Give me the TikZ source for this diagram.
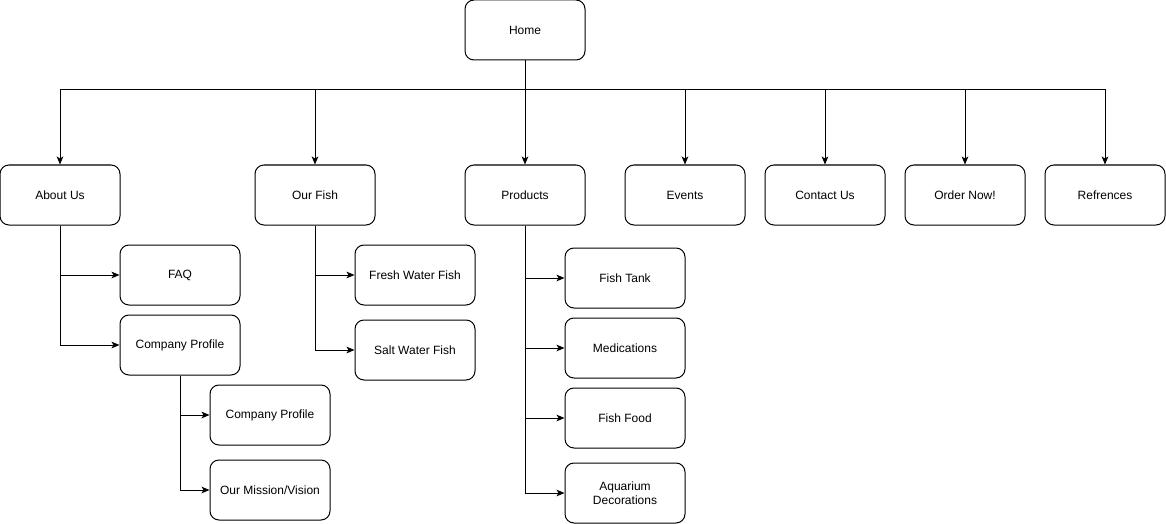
\documentclass[tikz,border=0pt]{standalone}
\usepackage{fontspec}
\setmainfont{Liberation Sans}
\usetikzlibrary{arrows.meta}
\begin{document}
\begin{tikzpicture}[x=0.75pt,y=-0.75pt,
  box/.style={draw=black,line width=0.75pt,rounded corners=6.75pt,minimum width=90pt,minimum height=45pt,inner sep=0pt,align=center,font=\fontsize{9}{10.5}\selectfont,fill=white},
  arr/.style={draw=black,line width=0.75pt,-{Stealth[length=6pt,width=5pt,inset=1.5pt]}}]
\useasboundingbox (0,0) rectangle (1166,524);
\node[box] (home) at (525,30) {Home};
\node[box] (about) at (60,195) {About Us};
\node[box] (fish) at (315,195) {Our Fish};
\node[box] (prod) at (525,195) {Products};
\node[box] (events) at (685,195) {Events};
\node[box] (contact) at (825,195) {Contact Us};
\node[box] (order) at (965,195) {Order Now!};
\node[box] (refs) at (1105,195) {Refrences};
\node[box] (faq) at (180,275) {FAQ};
\node[box] (cp) at (180,345) {Company Profile};
\node[box] (cp2) at (270,415) {Company Profile};
\node[box] (mission) at (270,490) {Our Mission/Vision};
\node[box] (fresh) at (415,275) {Fresh Water Fish};
\node[box] (salt) at (415,350) {Salt Water Fish};
\node[box] (tank) at (625,278) {Fish Tank};
\node[box] (meds) at (625,348) {Medications};
\node[box] (food) at (625,418) {Fish Food};
\node[box] (deco) at (625,493) {Aquarium\\Decorations};
\coordinate (bus) at (525,90);
\foreach \t in {about,fish,events,contact,order,refs}
  \draw[arr] (home.south) -- (bus) -| (\t.north);
\draw[arr] (home.south) -- (prod.north);
\draw[arr] (about.south) |- (faq.west);
\draw[arr] (about.south) |- (cp.west);
\draw[arr] (cp.south) |- (cp2.west);
\draw[arr] (cp.south) |- (mission.west);
\draw[arr] (fish.south) |- (fresh.west);
\draw[arr] (fish.south) |- (salt.west);
\draw[arr] (prod.south) |- (tank.west);
\draw[arr] (prod.south) |- (meds.west);
\draw[arr] (prod.south) |- (food.west);
\draw[arr] (prod.south) |- (deco.west);
\end{tikzpicture}
\end{document}
